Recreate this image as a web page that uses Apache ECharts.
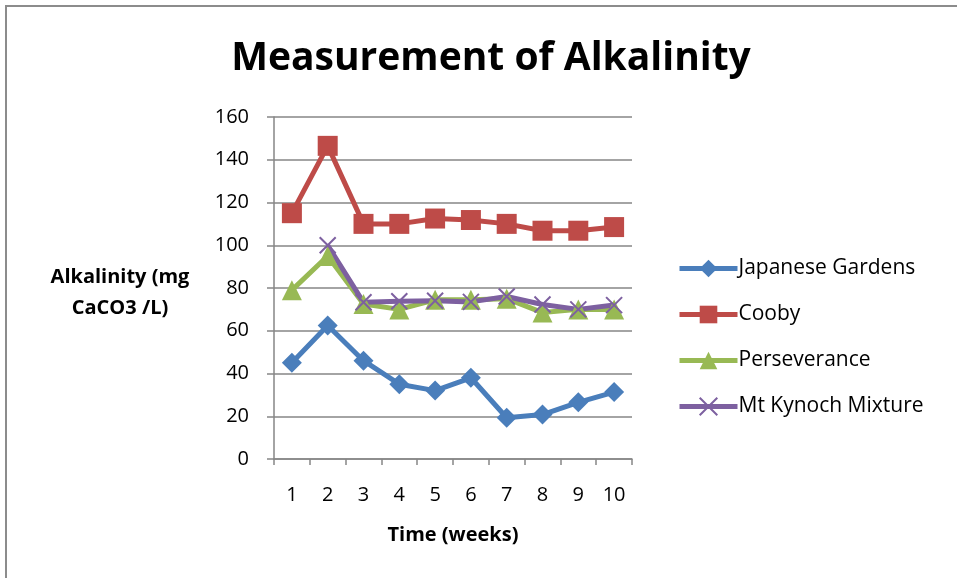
<!DOCTYPE html>
<html>
<head>
<meta charset="utf-8">
<script src="https://cdn.jsdelivr.net/npm/echarts@6/dist/echarts.min.js"></script>
<style>
  html, body { margin: 0; padding: 0; background: #fff; }
  #chart { width: 957px; height: 578px; }
</style>
</head>
<body>
<div id="chart"></div>
<script>
// Weekly alkalinity readings (mg CaCO3 / L) per site
const weeks = ['1', '2', '3', '4', '5', '6', '7', '8', '9', '10'];
const japaneseGardens = [45, 62.5, 46, 35, 32, 38, 19.3, 20.8, 26.5, 31.3];
const cooby = [115, 146.5, 110, 110, 112.5, 111.8, 110, 106.8, 106.8, 108.5];
const perseverance = [79, 95, 72.5, 70, 74.5, 74.5, 75, 68.5, 70, 70];
const mtKynoch = [null, 100, 73.3, 73.8, 74, 73.5, 76, 72.3, 70, 72];
const yTicks = [0, 20, 40, 60, 80, 100, 120, 140, 160];

const FONT = '"Open Sans", "Liberation Sans", sans-serif';
const AXIS_GREY = '#868686';

const chart = echarts.init(document.getElementById('chart'));

function lineSeries(name, data, color, symbol, size, extra) {
  return Object.assign({
    name: name,
    type: 'line',
    data: data,
    symbol: symbol,
    symbolSize: size,
    showSymbol: true,
    connectNulls: false,
    lineStyle: { color: color, width: 5 },
    itemStyle: { color: color },
    emphasis: { disabled: true },
    animation: false,
    z: 3
  }, extra || {});
}

// X-shaped marker for the Mt Kynoch series
const crossPath = 'path://M0,0 L10,10 M10,0 L0,10';

chart.setOption({
  animation: false,
  title: {
    text: 'Measurement of Alkalinity',
    left: 486,
    textAlign: 'center',
    top: 34,
    textStyle: { fontFamily: FONT, fontWeight: 'bold', fontSize: 39, color: '#000' }
  },
  graphic: [{
    type: 'rect',
    shape: { x: 6, y: 6, width: 1000, height: 700 },
    style: { fill: 'none', stroke: '#8c8c8c', lineWidth: 2 },
    silent: true,
    z: 0
  }, {
    type: 'text',
    x: 120,
    y: 262,
    style: {
      text: 'Alkalinity (mg\nCaCO3 /L)',
      font: 'bold 20px ' + FONT,
      fill: '#000',
      align: 'center',
      lineHeight: 31
    },
    silent: true
  }],
  legend: {
    orient: 'vertical',
    left: 672,
    top: 253,
    itemGap: 25,
    itemWidth: 58,
    itemHeight: 22,
    lineStyle: { width: 5 },
    textStyle: { fontFamily: FONT, fontSize: 21, color: '#000', padding: [0, 0, 0, -4] },
    data: ['Japanese Gardens', 'Cooby', 'Perseverance', 'Mt Kynoch Mixture']
  },
  grid: { left: 274, right: 325, top: 117, bottom: 119, containLabel: false },
  xAxis: {
    type: 'category',
    data: weeks,
    boundaryGap: true,
    name: 'Time (weeks)',
    nameLocation: 'middle',
    nameGap: 66,
    nameTextStyle: { fontFamily: FONT, fontWeight: 'bold', fontSize: 20, color: '#000' },
    axisLine: { lineStyle: { color: AXIS_GREY, width: 1.5 } },
    axisTick: { show: true, length: 6, alignWithLabel: false, lineStyle: { color: AXIS_GREY, width: 1.5 } },
    axisLabel: { fontFamily: FONT, fontSize: 20, color: '#000', margin: 26 },
    splitLine: { show: false }
  },
  yAxis: {
    type: 'value',
    min: 0,
    max: 160,
    interval: 20,
    axisLine: { show: true, lineStyle: { color: AXIS_GREY, width: 1.5 } },
    axisTick: { show: true, length: 7, lineStyle: { color: AXIS_GREY, width: 1.5 } },
    axisLabel: {
      fontFamily: FONT, fontSize: 20, color: '#000', margin: 25,
      formatter: function (v) { return yTicks.indexOf(v) >= 0 ? String(v) : ''; }
    },
    splitLine: { show: true, lineStyle: { color: AXIS_GREY, width: 1.5 } }
  },
  series: [
    lineSeries('Japanese Gardens', japaneseGardens, '#4a7ebb', 'diamond', 20),
    lineSeries('Cooby', cooby, '#be4b48', 'rect', 20),
    lineSeries('Perseverance', perseverance, '#98b954', 'triangle', 20),
    lineSeries('Mt Kynoch Mixture', mtKynoch, '#7d60a0', crossPath, 16, {
      itemStyle: { color: '#7d60a0', borderColor: '#7d60a0', borderWidth: 2 }
    })
  ]
});
</script>
</body>
</html>
